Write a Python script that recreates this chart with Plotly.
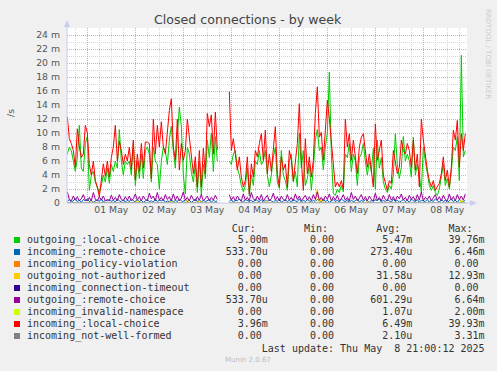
import pandas as pd
import plotly.graph_objects as go

N = None
# hourly samples starting 2025-04-30 14:00 (values in milli-per-second)
start_time = "2025-04-30 14:00"

incoming_local = [
    12.3, 9.2, 8.5, 7.5, 5.1, 10.6, 8.0, 6.5, 7.0, 11.1,
    10.0, 5.5, 4.0, 6.0, 3.2, 2.3, 0.9, 3.2, 5.6, 3.8,
    6.0, 3.7, 6.5, 8.0, 11.1, 6.0, 8.8, 7.5, 5.5, 7.0,
    6.0, 8.0, 4.8, 9.0, 3.3, 7.0, 4.5, 8.5, 5.0, 8.7,
    8.7, 8.5, 3.5, 12.0, 7.0, 11.1, 8.0, 11.6, 8.0, 7.0,
    10.0, 13.2, 14.9, 8.0, 6.1, 12.0, 4.7, 8.5, 6.1, 7.5,
    12.0, 9.4, 6.1, 4.2, 6.6, 2.3, 7.5, 2.3, 7.8, 4.2,
    12.8, 10.9, 12.6, 7.0, 13.0, 7.6, N, N, N, N,
    N, 15.9, 7.5, 9.2, 7.0, 4.7, 6.6, 3.7, 2.3, 3.2,
    6.6, 1.3, 5.6, 3.7, 7.5, 6.6, 8.5, 9.9, 6.1, 10.4,
    4.2, 7.0, 4.5, 8.0, 10.9, 4.2, 2.3, 6.6, 4.7, 5.6,
    2.3, 7.5, 6.1, 3.2, 6.1, 8.5, 14.2, 6.1, 1.8, 9.2,
    4.2, 6.6, 3.7, 6.1, 12.8, 16.6, 9.4, 10.1, 6.1, 10.9,
    14.7, 12.0, 8.5, 6.1, 2.3, 3.0, 2.3, 3.2, 2.0, 12.0,
    8.0, 9.9, 6.1, 9.0, 6.1, 4.2, 8.0, 9.4, 9.9, 7.5,
    5.1, 7.0, 4.7, 2.3, 11.3, 6.1, 7.5, 9.0, 4.0, 2.8,
    1.8, 3.2, 2.8, 7.5, 6.1, 4.2, 5.1, 9.0, 7.5, 7.0,
    8.5, 7.5, 5.1, 9.0, 4.7, 7.0, 2.3, 12.0, 9.0, 6.6,
    4.7, 3.2, 2.3, 3.2, 1.8, 2.3, 2.8, 4.2, 6.6, 3.2,
    4.7, 2.3, 5.1, 10.4, 9.0, 11.8, 5.1, 9.9, 7.5, 9.9,
]

outgoing_local = [
    7.0, 8.0, 7.5, 6.0, 4.5, 6.5, 11.1, 5.0, 4.5, 8.5,
    9.5, 1.8, 4.0, 4.5, 3.0, 2.2, 1.5, 2.5, 4.0, 3.0,
    5.0, 2.8, 5.5, 4.5, 6.0, 5.0, 10.5, 6.0, 4.0, 6.0,
    5.5, 6.0, 4.0, 8.5, 2.5, 6.0, 3.5, 7.0, 3.5, 7.5,
    8.0, 7.0, 3.0, 8.0, 6.0, 5.5, 2.0, 6.0, 8.0, 7.5,
    5.5, 9.0, 11.0, 7.5, 5.0, 9.5, 13.7, 11.0, 4.0, 1.3,
    8.0, 7.0, 4.5, 3.0, 5.5, 1.5, 6.0, 1.1, 5.5, 3.5,
    9.0, 6.5, 10.0, 4.5, 9.5, 6.0, N, N, N, N,
    N, 6.0, 5.5, 7.0, 7.5, 5.0, 4.0, 2.5, 1.6, 2.5,
    5.0, 1.0, 4.0, 2.5, 6.0, 5.5, 7.5, 5.5, 6.0, 7.5,
    4.0, 2.3, 4.0, 6.5, 8.0, 3.0, 2.1, 7.5, 4.0, 3.2,
    1.8, 6.0, 7.0, 3.0, 4.5, 2.3, 10.0, 5.0, 7.5, 2.5,
    3.5, 5.5, 1.8, 5.0, 9.0, 10.5, 7.5, 8.0, 4.7, 8.0,
    10.0, 18.7, 7.0, 1.3, 1.1, 2.0, 1.5, 2.5, 1.6, 7.0,
    6.5, 8.5, 4.5, 7.0, 6.0, 2.5, 6.5, 7.0, 8.5, 6.0,
    4.0, 6.0, 4.5, 7.8, 2.0, 9.0, 5.0, 6.5, 3.0, 2.0,
    1.5, 2.5, 2.0, 4.0, 9.9, 5.5, 3.5, 5.1, 9.5, 6.0,
    7.0, 6.0, 3.7, 9.4, 4.0, 5.5, 4.0, 1.6, 8.0, 6.0,
    4.0, 2.5, 1.8, 2.5, 1.5, 1.1, 2.0, 3.5, 5.5, 2.5,
    3.5, 2.0, 4.5, 8.0, 7.5, 9.5, 3.2, 21.1, 6.6, 7.5,
]

outgoing_remote = [
    1.6, 0.5, 0.3, 1.0, 0.4, 0.9, 0.3, 0.6, 1.2, 0.4,
    0.3, 0.8, 0.3, 1.5, 0.5, 0.3, 0.9, 0.4, 1.0, 0.3,
    0.5, 0.3, 1.1, 0.4, 0.8, 0.3, 1.2, 0.5, 0.3, 0.9,
    0.4, 1.0, 0.3, 0.6, 1.3, 0.4, 0.9, 0.3, 1.0, 0.5,
    0.3, 1.4, 0.6, 1.0, 0.3, 1.5, 0.4, 0.8, 0.3, 1.2,
    0.5, 0.9, 0.3, 1.3, 0.4, 1.0, 0.3, 0.7, 1.6, 0.4,
    0.8, 0.3, 1.1, 0.5, 0.3, 0.9, 0.4, 1.2, 0.3, 0.6,
    1.0, 0.3, 0.8, 0.4, 1.1, 0.5, N, N, N, N,
    N, 1.2, 0.4, 0.9, 0.3, 1.0, 0.5, 0.3, 1.3, 0.4,
    0.8, 0.3, 1.5, 0.6, 0.3, 1.0, 0.4, 1.2, 0.3, 0.7,
    1.1, 0.3, 0.6, 1.4, 0.4, 0.9, 0.3, 1.0, 0.5, 0.3,
    1.2, 0.4, 0.8, 0.3, 1.3, 0.5, 1.0, 0.3, 0.7, 1.1,
    0.4, 0.9, 0.3, 1.2, 0.5, 1.6, 0.4, 0.8, 0.3, 1.0,
    0.5, 1.3, 0.3, 0.9, 0.4, 1.1, 0.3, 0.6, 1.2, 0.4,
    0.8, 0.3, 1.5, 0.5, 1.0, 0.3, 0.7, 1.2, 0.4, 0.9,
    0.3, 1.0, 0.5, 0.3, 1.4, 0.4, 0.8, 0.3, 1.1, 0.5,
    0.3, 1.2, 0.4, 0.9, 0.3, 1.0, 0.6, 1.3, 0.4, 0.8,
    0.3, 1.1, 0.5, 0.9, 0.3, 1.2, 0.4, 1.6, 0.3, 0.8,
    0.5, 1.0, 0.3, 0.7, 1.2, 0.4, 0.9, 0.3, 1.1, 0.5,
    0.3, 1.3, 0.4, 0.9, 0.3, 1.2, 0.5, 1.0, 0.4, 1.3,
]

incoming_remote = [
    0.2, 0.5, 0.1, 0.3, 0.6, 0.2, 0.4, 0.1, 0.5, 0.3,
    0.6, 0.2, 0.4, 0.1, 0.3, 0.5, 0.2, 0.6, 0.1, 0.4,
    0.3, 0.5, 0.2, 0.4, 0.1, 0.6, 0.3, 0.2, 0.5, 0.1,
    0.4, 0.2, 0.6, 0.3, 0.1, 0.5, 0.2, 0.4, 0.1, 0.3,
    0.5, 0.2, 0.3, 0.1, 0.6, 0.2, 0.4, 0.3, 0.5, 0.1,
    0.3, 0.2, 0.5, 0.1, 0.4, 0.2, 0.6, 0.3, 0.1, 0.5,
    0.2, 0.4, 0.1, 0.3, 0.6, 0.2, 0.5, 0.1, 0.4, 0.2,
    0.3, 0.5, 0.1, 0.4, 0.2, 0.3, N, N, N, N,
    N, 0.2, 0.5, 0.1, 0.4, 0.3, 0.6, 0.2, 0.1, 0.5,
    0.3, 0.2, 0.4, 0.1, 0.6, 0.3, 0.2, 0.5, 0.1, 0.4,
    0.2, 0.5, 0.3, 0.1, 0.4, 0.2, 0.6, 0.1, 0.3, 0.5,
    0.2, 0.4, 0.1, 0.5, 0.3, 0.2, 0.6, 0.1, 0.4, 0.2,
    0.5, 0.3, 0.1, 0.4, 0.2, 0.5, 0.3, 0.1, 0.6, 0.2,
    0.4, 0.1, 0.3, 0.5, 0.2, 0.4, 0.1, 0.6, 0.3, 0.2,
    0.5, 0.1, 0.4, 0.2, 0.3, 0.6, 0.1, 0.4, 0.2, 0.5,
    0.3, 0.1, 0.4, 0.2, 0.5, 0.3, 0.6, 0.1, 0.4, 0.2,
    0.5, 0.3, 0.1, 0.6, 0.2, 0.4, 0.1, 0.3, 0.5, 0.2,
    0.4, 0.1, 0.6, 0.3, 0.2, 0.5, 0.1, 0.4, 0.3, 0.2,
    0.5, 0.1, 0.4, 0.2, 0.6, 0.3, 0.1, 0.5, 0.2, 0.4,
    0.1, 0.3, 0.6, 0.2, 0.4, 0.1, 0.5, 0.3, 0.2, 0.4,
]

# sparse series: (hour index, value); all other samples are zero
outgoing_not_authorized_spikes = {12: 0.3, 35: 0.4, 52: 0.3, 60: 0.5, 66: 0.4,
                                  100: 0.3, 125: 2.0, 127: 0.6, 150: 0.3, 197: 0.5}
incoming_invalid_namespace_spikes = {197: 0.4}
incoming_not_well_formed_spikes = {140: 0.2}

series_names = [
    "outgoing_:local-choice", "incoming_:remote-choice", "incoming_policy-violation",
    "outgoing_not-authorized", "incoming_connection-timeout", "outgoing_:remote-choice",
    "incoming_invalid-namespace", "incoming_:local-choice", "incoming_not-well-formed",
]
series_colors = ["#00CC00", "#0066B3", "#FF8000", "#FFCC00", "#330099",
                 "#990099", "#CCFF00", "#FF0000", "#808080"]
cur_vals = ["5.00m", "533.70u", "0.00 ", "0.00 ", "0.00 ", "533.70u", "0.00 ", "3.96m", "0.00 "]
min_vals = ["0.00 "] * 9
avg_vals = ["5.47m", "273.40u", "0.00 ", "31.58u", "0.00 ", "601.29u", "1.07u", "6.49m", "2.10u"]
max_vals = ["39.76m", "6.46m", "0.00 ", "12.93m", "0.00 ", "6.64m", "2.00m", "39.93m", "3.31m"]

y_tick_vals = list(range(0, 25, 2))
y_tick_text = ["0"] + [f"{v} m" for v in y_tick_vals[1:]]

times = pd.date_range(start_time, periods=len(incoming_local), freq="h")
gap = set(i for i, v in enumerate(incoming_local) if v is None)


def sparse(spikes):
    return [None if i in gap else spikes.get(i, 0.0) for i in range(len(times))]


zeros = sparse({})
series_values = [
    outgoing_local, incoming_remote, zeros, sparse(outgoing_not_authorized_spikes), zeros,
    outgoing_remote, sparse(incoming_invalid_namespace_spikes), incoming_local,
    sparse(incoming_not_well_formed_spikes),
]

fig = go.Figure()
for name, col, vals in zip(series_names, series_colors, series_values):
    fig.add_trace(go.Scatter(x=times, y=vals, mode="lines", name=name,
                             line=dict(color=col, width=1), connectgaps=False,
                             showlegend=False, hoverinfo="skip"))

W, H = 497, 371
L, R, T, B = 67, 30, 28, 168
PW, PH = W - L - R, H - T - B


def px(x):
    return (x - L) / PW


def py(y):
    return (H - B - y) / PH


axis_col = "#C8CCF0"
shapes = [
    dict(type="line", xref="paper", yref="paper", x0=0, x1=px(470), y0=0, y1=0,
         line=dict(color=axis_col, width=1), layer="above"),
    dict(type="line", xref="paper", yref="paper", x0=0, x1=0, y0=0, y1=py(24),
         line=dict(color=axis_col, width=1), layer="above"),
    dict(type="path", xref="paper", yref="paper", layer="above",
         path=f"M {px(64)} {py(27)} L {px(70)} {py(27)} L {px(67)} {py(20)} Z",
         fillcolor=axis_col, line=dict(width=0)),
    dict(type="path", xref="paper", yref="paper", layer="above",
         path=f"M {px(470)} {py(200)} L {px(470)} {py(206)} L {px(477)} {py(203)} Z",
         fillcolor=axis_col, line=dict(width=0)),
]

NB = "\u00a0"
mono = dict(family="DejaVu Sans Mono", size=10, color="#333333")
annotations = []
row_y = [240, 252, 264, 276, 288, 300, 312, 324, 336]
header = " " * 28 + "".join(h.rjust(10) + "  " for h in ["Cur:", "Min:", "Avg:", "Max:"])
annotations.append(dict(x=px(26), y=py(228.5), xref="paper", yref="paper",
                        text=header.replace(" ", NB), showarrow=False, xanchor="left",
                        yanchor="middle", font=mono, borderpad=0))
for i, name in enumerate(series_names):
    line = name.ljust(28) + cur_vals[i].rjust(12) + min_vals[i].rjust(12) + \
        avg_vals[i].rjust(12) + max_vals[i].rjust(12)
    annotations.append(dict(x=px(26), y=py(row_y[i]), xref="paper", yref="paper",
                            text=line.replace(" ", NB), showarrow=False, xanchor="left",
                            yanchor="middle", font=mono, borderpad=0))
    shapes.append(dict(type="rect", xref="paper", yref="paper",
                       x0=px(14), x1=px(20), y0=py(row_y[i] - 3), y1=py(row_y[i] + 3),
                       fillcolor=series_colors[i], line=dict(width=0)))

last = " " * 39 + "Last update: Thu May  8 21:00:12 2025"
annotations.append(dict(x=px(26), y=py(348), xref="paper", yref="paper",
                        text=last.replace(" ", NB), showarrow=False, xanchor="left",
                        yanchor="middle", font=mono, borderpad=0))
annotations.append(dict(x=px(248), y=py(360), xref="paper", yref="paper",
                        text="Munin 2.0.67", showarrow=False, xanchor="center",
                        yanchor="middle", font=dict(family="DejaVu Sans", size=7, color="#BBBBBB")))
annotations.append(dict(x=px(248), y=py(20), xref="paper", yref="paper",
                        text="Closed connections - by week", showarrow=False,
                        xanchor="center", yanchor="middle",
                        font=dict(family="DejaVu Sans", size=12.6, color="#444444")))
annotations.append(dict(x=px(10), y=py(113), xref="paper", yref="paper",
                        text="/s", showarrow=False, textangle=-90,
                        xanchor="center", yanchor="middle",
                        font=dict(family="DejaVu Sans", size=9.3, color="#555555")))
annotations.append(dict(x=px(488), y=py(54), xref="paper", yref="paper",
                        text="RRDTOOL / TOBI OETIKER", showarrow=False, textangle=90,
                        xanchor="center", yanchor="middle",
                        font=dict(family="DejaVu Sans", size=7, color="#CCCCCC")))

tickfont = dict(family="DejaVu Sans", size=9.3, color="#555555")
fig.update_layout(
    width=W, height=H, margin=dict(l=L, r=R, t=T, b=B, pad=0),
    paper_bgcolor="#F0F0F0", plot_bgcolor="#FFFFFF",
    showlegend=False, shapes=shapes, annotations=annotations,
    xaxis=dict(type="date", range=["2025-04-30 13:50", "2025-05-08 21:50"],
               tick0="2025-05-01", dtick=86400000, tickformat="%d %b",
               ticklabelmode="period", ticks="", tickfont=tickfont,
               showgrid=True, gridcolor="#F0A0A0", griddash="1px,1px", gridwidth=1,
               zeroline=False, showline=False,
               minor=dict(tick0="2025-05-01", dtick=6 * 3600000, showgrid=True,
                          gridcolor="#D4D4D4", griddash="1px,1px", gridwidth=1)),
    yaxis=dict(range=[0, 25], tickvals=y_tick_vals, ticktext=y_tick_text,
               ticks="", tickfont=tickfont, ticklabelstandoff=6,
               showgrid=True, gridcolor="#F0A0A0", griddash="1px,1px", gridwidth=1,
               zeroline=False, showline=False,
               minor=dict(dtick=1, showgrid=True, gridcolor="#D4D4D4",
                          griddash="1px,1px", gridwidth=1)),
)

fig.write_html("out.html", config={"displayModeBar": False, "staticPlot": True},
               post_script="document.body.style.margin='0';document.body.style.background='#F0F0F0';")
